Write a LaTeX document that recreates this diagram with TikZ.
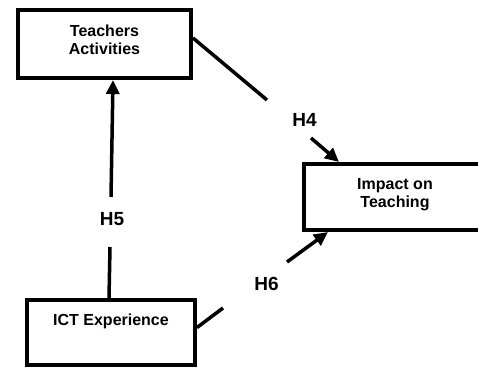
\documentclass[tikz,border=0pt]{standalone}
\usepackage{fontspec}
\setmainfont{Liberation Sans}
\usetikzlibrary{arrows.meta,positioning}

\tikzset{
  box/.style={draw, line width=4pt, align=center,
    font=\fontsize{16}{18}\selectfont\bfseries},
  link/.style={line width=3.5pt},
  hyparrow/.style={link, -{Triangle[length=14pt,width=13pt]}},
  hyp/.style={font=\fontsize{19}{20}\selectfont\bfseries, inner sep=0pt}
}

\begin{document}
\begin{tikzpicture}[x=1pt,y=-1pt]
  \useasboundingbox (0,0) rectangle (478,369);

  % the three constructs
  \node[box, minimum width=173pt, minimum height=68pt, text depth=9pt]
    (teach) at (104.5,44) {Teachers\\Activities};
  \node[box, minimum width=182pt, minimum height=66pt, text depth=9pt]
    (impact) at (395,197) {Impact on\\Teaching};
  \node[box, minimum width=168pt, minimum height=65pt, text depth=25pt]
    (ict) at (111,332.5) {ICT Experience};

  % hypothesis labels sit in the gaps of the paths
  \node[hyp] (h4) at (304.5,120) {H4};
  \node[hyp] (h5) at (112,219.5) {H5};
  \node[hyp] (h6) at (266.5,283.5) {H6};

  \coordinate (h4a) at (267,100);
  \coordinate (h4b) at (311,138);
  \coordinate (h5a) at (111,197);
  \coordinate (h5b) at (110,247);
  \coordinate (h6a) at (223,308);
  \coordinate (h6b) at (287,262);

  % H4: teachers -> impact
  \draw[link] ([yshift=6pt]teach.east) -- (h4a);
  \draw[hyparrow] (h4b) -- ([xshift=37pt]impact.north west);
  % H5: ICT -> teachers
  \draw[link] ([xshift=-2pt]ict.north) -- (h5b);
  \draw[hyparrow] (h5a) -- ([xshift=8.5pt]teach.south);
  % H6: ICT -> impact
  \draw[link] ([yshift=5pt]ict.east) -- (h6a);
  \draw[hyparrow] (h6b) -- ([xshift=26pt]impact.south west);
\end{tikzpicture}
\end{document}
